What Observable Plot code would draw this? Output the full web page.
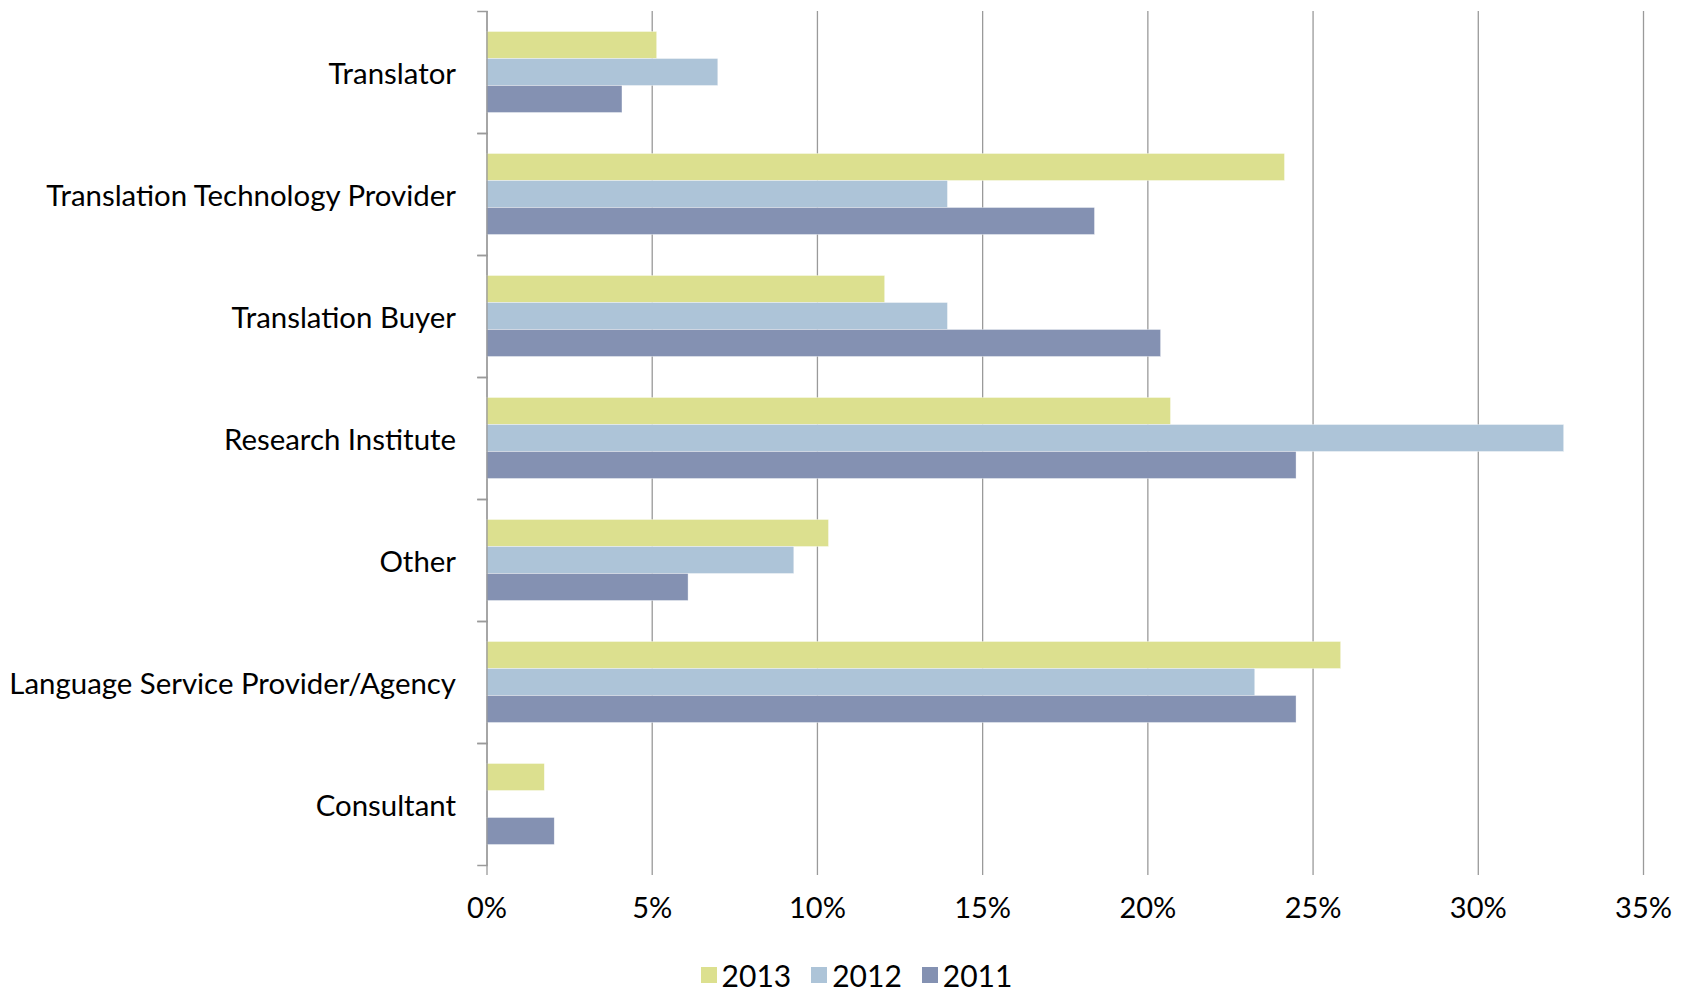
<!DOCTYPE html>
<html><head><meta charset="utf-8">
<script src="https://cdn.jsdelivr.net/npm/d3@7"></script>
<script src="https://cdn.jsdelivr.net/npm/@observablehq/plot@0.6"></script>
<style>
body{margin:0;background:#fff;font-family:Lato,"Open Sans",sans-serif;}
#legend{display:flex;justify-content:center;align-items:center;gap:20px;font-size:30px;color:#000;height:44px;padding-left:24px;margin-top:13px;}
#legend .item{display:flex;align-items:center;gap:5px;}
#legend .sw{width:16px;height:16px;display:inline-block;}
</style></head><body><div id="chart"></div><div id="legend"></div>
<script>
const categories = ["Translator","Translation Technology Provider","Translation Buyer","Research Institute","Other","Language Service Provider/Agency","Consultant"];
const years = ["2013","2012","2011"];
const values2013 = [5.15, 24.15, 12.05, 20.7, 10.35, 25.85, 1.75];
const values2012 = [7.0, 13.95, 13.95, 32.6, 9.3, 23.25, 0];
const values2011 = [4.1, 18.4, 20.4, 24.5, 6.1, 24.5, 2.05];
const colors = ["#DCE08F","#ADC4D8","#8491B2"];
const xTicks = [0,5,10,15,20,25,30,35];

const series = [values2013, values2012, values2011];
const rows = [];
categories.forEach((c,i)=>years.forEach((y,j)=>rows.push({category:c, year:y, value:series[j][i]})));

const W = 1689, ML = 486.5, MR = 46;
const frameW = W - ML - MR;
const grey = "#9a9a9a";

const chart = Plot.plot({
  width: W, height: 940,
  marginLeft: ML, marginRight: MR, marginTop: 9.5, marginBottom: 73,
  style: {fontFamily: "Lato, 'Open Sans', sans-serif", fontSize: "29px", color: "#000", background: "#fff"},
  x: {domain: [0, 35]},
  y: {domain: years, paddingInner: 0, paddingOuter: 0.75, axis: null},
  fy: {domain: categories, padding: 0},
  color: {domain: years, range: colors},
  marks: [
    Plot.gridX(xTicks, {stroke: grey, strokeOpacity: 1, strokeWidth: 1.3}),
    Plot.barX(rows, {fy: "category", y: "year", x: "value", fill: "year", stroke: "#fff", strokeWidth: 0.6, strokeOpacity: 0.6}),
    Plot.ruleX([0], {stroke: grey, strokeWidth: 1.3}),
    Plot.frame({anchor: "top", stroke: grey, strokeWidth: 1.5, insetLeft: -9, insetRight: frameW}),
    Plot.frame({anchor: "bottom", stroke: grey, strokeWidth: 1.5, insetLeft: -9, insetRight: frameW}),
    Plot.axisX(xTicks, {tickSize: 10, tickPadding: 22, label: null, line: true, stroke: grey, strokeWidth: 1.3, tickFormat: d => d + "%", fontSize: 29}),
    Plot.axisFy({anchor: "left", tickSize: 0, tickPadding: 31, label: null, fontSize: 29.4, dy: 2})
  ]
});
document.getElementById("chart").append(chart);

const leg = document.getElementById("legend");
years.forEach((y,i)=>{
  const it = document.createElement("div"); it.className="item";
  const sw = document.createElement("span"); sw.className="sw"; sw.style.background=colors[i];
  const t = document.createElement("span"); t.textContent = y;
  it.append(sw,t); leg.append(it);
});
</script></body></html>
